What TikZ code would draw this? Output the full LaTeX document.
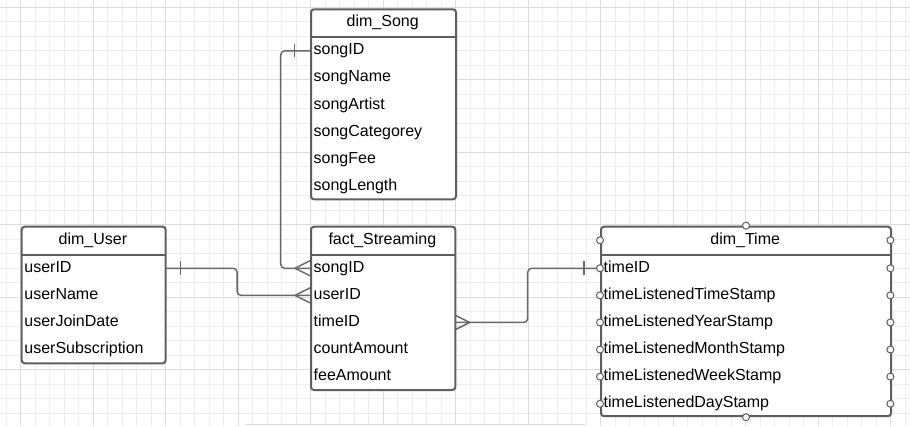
\documentclass[tikz,border=0pt]{standalone}
\usepackage{fontspec}
\setmainfont{Liberation Sans}
\usetikzlibrary{calc}
\definecolor{boxline}{HTML}{5E5E5E}
\definecolor{connline}{HTML}{686868}
\definecolor{gridminor}{HTML}{EDEDED}
\definecolor{gridmajor}{HTML}{DCDCDC}
\begin{document}
\begin{tikzpicture}[x=1pt,y=-1pt,
  tbl/.style={draw=boxline, line width=2pt, rounded corners=3pt, fill=white, inner sep=0pt, anchor=north west},
  hdr/.style={inner sep=0pt, anchor=north west, minimum height=28.6pt, font=\fontsize{16}{18}\selectfont, text=black},
  rowbox/.style={inner xsep=3.5pt, inner ysep=0pt, anchor=north west, minimum height=26.7pt, align=left,
     font=\fontsize{16}{18}\selectfont, text=black, text height=11.5pt, text depth=3.5pt},
  sepline/.style={draw=boxline, line width=2pt},
  conn/.style={draw=connline, line width=1.5pt},
  tcirc/.style={circle, draw=boxline, line width=1pt, fill=white, minimum size=7pt, inner sep=0pt},
  gmin/.style={draw=gridminor, line width=1pt},
  gmaj/.style={draw=gridmajor, line width=1pt}
]
\useasboundingbox (0,0) rectangle (910,426);
\fill[white] (0,0) rectangle (910,426);
% grid
\foreach \i in {0,...,62} {\draw[gmin] ({6.2+14.5*\i},0) -- ({6.2+14.5*\i},426);}
\foreach \j in {0,...,28} {\draw[gmin] (0,{7.3+14.5*\j}) -- (910,{7.3+14.5*\j});}
\foreach \i in {0,...,12} {\draw[gmaj] ({20.7+72.5*\i},0) -- ({20.7+72.5*\i},426);}
\foreach \j in {0,...,5} {\draw[gmaj] (0,{7.3+72.5*\j}) -- (910,{7.3+72.5*\j});}
\fill[white] (245,424) rectangle (585,427);
\draw[gmaj] (245,424) -- (585,424);

% dim_Song
\node[tbl, minimum width=145pt, minimum height=190pt] (song) at (310,8.3) {};
\node[hdr, minimum width=145pt] (song-h) at (310,8.3) {dim\_Song};
\draw[sepline] (song-h.south west) -- (song-h.south east);
\node[rowbox, text width=138pt] (song-1) at (song-h.south west) {songID};
\node[rowbox, text width=138pt] (song-2) at (song-1.south west) {songName};
\node[rowbox, text width=138pt] (song-3) at (song-2.south west) {songArtist};
\node[rowbox, text width=138pt] (song-4) at (song-3.south west) {songCategorey};
\node[rowbox, text width=138pt] (song-5) at (song-4.south west) {songFee};
\node[rowbox, text width=138pt] (song-6) at (song-5.south west) {songLength};

% dim_User
\node[tbl, minimum width=144pt, minimum height=136.6pt] (user) at (20.7,225.7) {};
\node[hdr, minimum width=144pt] (user-h) at (20.7,225.7) {dim\_User};
\draw[sepline] (user-h.south west) -- (user-h.south east);
\node[rowbox, text width=137pt] (user-1) at (user-h.south west) {userID};
\node[rowbox, text width=137pt] (user-2) at (user-1.south west) {userName};
\node[rowbox, text width=137pt] (user-3) at (user-2.south west) {userJoinDate};
\node[rowbox, text width=137pt] (user-4) at (user-3.south west) {userSubscription};

% fact_Streaming
\node[tbl, minimum width=144.3pt, minimum height=163.3pt] (fact) at (310,225.7) {};
\node[hdr, minimum width=144.3pt] (fact-h) at (310,225.7) {fact\_Streaming};
\draw[sepline] (fact-h.south west) -- (fact-h.south east);
\node[rowbox, text width=137.3pt] (fact-1) at (fact-h.south west) {songID};
\node[rowbox, text width=137.3pt] (fact-2) at (fact-1.south west) {userID};
\node[rowbox, text width=137.3pt] (fact-3) at (fact-2.south west) {timeID};
\node[rowbox, text width=137.3pt] (fact-4) at (fact-3.south west) {countAmount};
\node[rowbox, text width=137.3pt] (fact-5) at (fact-4.south west) {feeAmount};

% dim_Time
\node[tbl, minimum width=290pt, minimum height=189.5pt] (time) at (600,225.7) {};
\node[hdr, minimum width=290pt] (time-h) at (600,225.7) {dim\_Time};
\draw[sepline] (time-h.south west) -- (time-h.south east);
\node[rowbox, text width=283pt] (time-1) at (time-h.south west) {timeID};
\node[rowbox, text width=283pt] (time-2) at (time-1.south west) {timeListenedTimeStamp};
\node[rowbox, text width=283pt] (time-3) at (time-2.south west) {timeListenedYearStamp};
\node[rowbox, text width=283pt] (time-4) at (time-3.south west) {timeListenedMonthStamp};
\node[rowbox, text width=283pt] (time-5) at (time-4.south west) {timeListenedWeekStamp};
\node[rowbox, text width=283pt] (time-6) at (time-5.south west) {timeListenedDayStamp};

% connector song -> fact
\draw[conn, rounded corners=4pt] (song-1.west) -- ++(-29.3,0) |- (fact-1.west);
\draw[conn] ($(song-1.west)+(-15.5,-6.5)$) -- ++(0,13);
\draw[conn] ($(fact-1.west)+(0,-7.5)$) -- ($(fact-1.west)+(-15,0)$) -- ($(fact-1.west)+(0,7.5)$);

% connector user -> fact
\draw[conn, rounded corners=4pt] (user-1.east) -- ++(72,0) |- (fact-2.west);
\draw[conn] ($(user-1.east)+(15.5,-7)$) -- ++(0,14);
\draw[conn] ($(fact-2.west)+(0,-7.5)$) -- ($(fact-2.west)+(-15,0)$) -- ($(fact-2.west)+(0,7.5)$);

% connector fact -> time
\draw[conn, rounded corners=4pt] (fact-3.east) -- ++(73,0) |- (time-1.west);
\draw[conn] ($(time-1.west)+(-16,-7)$) -- ++(0,14);
\draw[conn] ($(fact-3.east)+(0,-7.5)$) -- ($(fact-3.east)+(15,0)$) -- ($(fact-3.east)+(0,7.5)$);

% selection handles on dim_Time
\node[tcirc] (tc-top) at (time.north) {};
\node[tcirc] (tc-bot) at (time.south) {};
\node[tcirc] (tl-0) at (time-h.west) {};
\node[tcirc] (tr-0) at (time-h.east) {};
\foreach \k in {1,...,6} {
  \node[tcirc] (tl-\k) at (time-\k.west) {};
  \node[tcirc] (tr-\k) at (time-\k.east) {};
}
\end{tikzpicture}
\end{document}
